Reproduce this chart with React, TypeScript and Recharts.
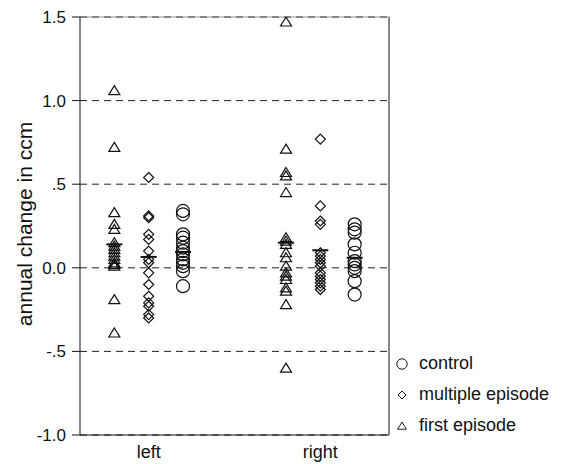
import React from "react";
import {
  CartesianGrid,
  ComposedChart,
  ReferenceLine,
  Scatter,
  XAxis,
  YAxis,
} from "recharts";

// values (annual change in ccm)
const groups = ["left", "right"];
const groupCenters = [2, 7];

const yTicks = [-1, -0.5, 0, 0.5, 1, 1.5];
const yTickLabels = ["-1.0", "-.5", "0.0", ".5", "1.0", "1.5"];

const leftFirst = [1.06, 0.72, 0.33, 0.26, 0.23, 0.15, 0.13, 0.11, 0.09, 0.07, 0.05, 0.03, 0.02, 0.01, -0.19, -0.39];
const leftMultiple = [0.54, 0.31, 0.3, 0.2, 0.17, 0.1, 0.05, 0.03, -0.03, -0.1, -0.17, -0.21, -0.23, -0.28, -0.3];
const leftControl = [0.34, 0.32, 0.2, 0.18, 0.15, 0.12, 0.1, 0.08, 0.05, 0.03, 0.01, -0.02, -0.11];

const rightFirst = [1.47, 0.71, 0.57, 0.55, 0.45, 0.18, 0.16, 0.14, 0.09, 0.06, 0.01, -0.03, -0.05, -0.07, -0.12, -0.14, -0.22, -0.6];
const rightMultiple = [0.77, 0.37, 0.28, 0.26, 0.09, 0.07, 0.05, 0.03, 0.01, -0.03, -0.05, -0.07, -0.09, -0.11, -0.13];
const rightControl = [0.26, 0.23, 0.21, 0.14, 0.09, 0.04, 0.02, 0.0, -0.02, -0.08, -0.16];

// group means (short bars), left then right
const firstMeans = [0.14, 0.15];
const multipleMeans = [0.065, 0.105];
const controlMeans = [0.095, 0.06];

const offsets = { first: -1, multiple: 0, control: 1 };

const INK = "#111";
const FONT = "'Liberation Sans', Arial, sans-serif";

const toPoints = (vals: number[], g: number, off: number) =>
  vals.map((v) => ({ x: groupCenters[g] + off, y: v }));

const meanPoints = (means: number[], off: number) =>
  means.map((v, g) => ({ x: groupCenters[g] + off, y: v }));

const CircleShape = (p: any) => (
  <circle cx={p.cx} cy={p.cy} r={6.5} fill="none" stroke={INK} strokeWidth={1.2} />
);

const DiamondShape = (p: any) => (
  <path
    d={`M${p.cx},${p.cy - 5} L${p.cx + 5},${p.cy} L${p.cx},${p.cy + 5} L${p.cx - 5},${p.cy} Z`}
    fill="none"
    stroke={INK}
    strokeWidth={1.2}
  />
);

const TriangleShape = (p: any) => (
  <path
    d={`M${p.cx},${p.cy - 5} L${p.cx + 5.5},${p.cy + 4} L${p.cx - 5.5},${p.cy + 4} Z`}
    fill="none"
    stroke={INK}
    strokeWidth={1.2}
  />
);

const MeanShape = (p: any) => (
  <line x1={p.cx - 8} x2={p.cx + 8} y1={p.cy} y2={p.cy} stroke={INK} strokeWidth={2} />
);

const YLabel = () => (
  <text
    x={24}
    y={224}
    transform="rotate(-90 24 224)"
    textAnchor="middle"
    dominantBaseline="central"
    fontSize={21}
    fontFamily={FONT}
    fill={INK}
  >
    annual change in ccm
  </text>
);

const legendItems = [
  { label: "control", Shape: CircleShape },
  { label: "multiple episode", Shape: DiamondShape },
  { label: "first episode", Shape: TriangleShape },
];

export default function App() {
  return (
    <div style={{ position: "absolute", left: 0, top: 0, width: 566, height: 464, background: "#fff", fontFamily: FONT }}>
      <ComposedChart width={566} height={464} margin={{ top: 17, right: 177, bottom: 0, left: 0 }}>
        <CartesianGrid vertical={false} stroke="#222" strokeDasharray="7 5" />
        <XAxis
          type="number"
          dataKey="x"
          domain={[0, 9]}
          ticks={groupCenters}
          tickFormatter={(v: number) => groups[groupCenters.indexOf(v)]}
          height={29}
          axisLine={{ stroke: INK }}
          tickLine={false}
          tickMargin={4}
          tick={{ fontSize: 18, fill: INK, fontFamily: FONT }}
          allowDataOverflow
        />
        <YAxis
          type="number"
          dataKey="y"
          domain={[-1, 1.5]}
          ticks={yTicks}
          tickFormatter={(v: number) => yTickLabels[yTicks.indexOf(v)]}
          width={80}
          axisLine={{ stroke: INK }}
          tickLine={{ stroke: INK }}
          tickSize={8}
          tickMargin={6}
          tick={{ fontSize: 17, fill: INK, fontFamily: FONT }}
          label={<YLabel />}
          allowDataOverflow
        />
        <ReferenceLine x={9} stroke={INK} />
        <ReferenceLine y={1.5} stroke="#777" strokeWidth={0.8} />

        <Scatter data={[...toPoints(leftFirst, 0, offsets.first), ...toPoints(rightFirst, 1, offsets.first)]} shape={TriangleShape} isAnimationActive={false} />
        <Scatter data={[...toPoints(leftMultiple, 0, offsets.multiple), ...toPoints(rightMultiple, 1, offsets.multiple)]} shape={DiamondShape} isAnimationActive={false} />
        <Scatter data={[...toPoints(leftControl, 0, offsets.control), ...toPoints(rightControl, 1, offsets.control)]} shape={CircleShape} isAnimationActive={false} />

        <Scatter data={meanPoints(firstMeans, offsets.first)} shape={MeanShape} isAnimationActive={false} />
        <Scatter data={meanPoints(multipleMeans, offsets.multiple)} shape={MeanShape} isAnimationActive={false} />
        <Scatter data={meanPoints(controlMeans, offsets.control)} shape={MeanShape} isAnimationActive={false} />
      </ComposedChart>

      <div style={{ position: "absolute", left: 392, top: 348 }}>
        {legendItems.map(({ label, Shape }) => (
          <div key={label} style={{ display: "flex", alignItems: "center", height: 31 }}>
            <svg width={20} height={20} style={{ marginRight: 7 }}>
              <g transform="translate(10 10) scale(0.8) translate(-10 -10)">
                <Shape cx={10} cy={10} />
              </g>
            </svg>
            <span style={{ fontSize: 18, color: INK }}>{label}</span>
          </div>
        ))}
      </div>
    </div>
  );
}
